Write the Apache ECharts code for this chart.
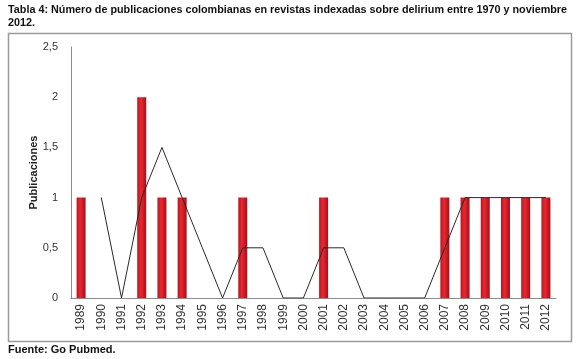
<!DOCTYPE html>
<html>
<head>
<meta charset="utf-8">
<script src="https://cdn.jsdelivr.net/npm/echarts@6/dist/echarts.min.js"></script>
<style>
  html, body { margin: 0; padding: 0; background: #fff; }
  #chart { width: 580px; height: 359px; }
</style>
</head>
<body>
<div id="chart"></div>
<script>
var years = ['1989', '1990', '1991', '1992', '1993', '1994', '1995', '1996', '1997', '1998', '1999', '2000',
    '2001', '2002', '2003', '2004', '2005', '2006', '2007', '2008', '2009', '2010', '2011', '2012'];
var publicaciones = [1, 0, 0, 2, 1, 1, 0, 0, 1, 0, 0, 0, 1, 0, 0, 0, 0, 0, 1, 1, 1, 1, 1, 1];
// linea de tendencia
var tendencia = [null, 1, 0, 1, 1.5, 1, 0.5, 0, 0.5, 0.5, 0, 0, 0.5, 0.5, 0, 0, 0, 0, 0.5, 1, 1, 1, 1, 1];

var titulo = 'Tabla 4: Número de publicaciones colombianas en revistas indexadas sobre delirium entre 1970 y noviembre\n2012.';
var fuente = 'Fuente: Go Pubmed.';

var myChart = echarts.init(document.getElementById('chart'));
myChart.setOption({
    animation: false,
    textStyle: { fontFamily: 'Liberation Sans' },
    grid: { left: 71, right: 24, top: 47, bottom: 61 },
    graphic: [
        {
            type: 'rect',
            shape: { x: 8.5, y: 33.5, width: 563, height: 308 },
            style: { fill: 'none', stroke: '#9a9a9a', lineWidth: 1.5 },
            z: -1
        },
        {
            type: 'text',
            left: 8, top: 4,
            style: {
                text: titulo,
                font: 'bold 10.8px "Liberation Sans"',
                fill: '#111',
                lineHeight: 13
            }
        },
        {
            type: 'text',
            left: 8, top: 344,
            style: {
                text: fuente,
                font: 'bold 11px "Liberation Sans"',
                fill: '#111'
            }
        }
    ],
    xAxis: {
        type: 'category',
        data: years,
        axisTick: { show: false },
        axisLine: { lineStyle: { color: '#8c8c8c' } },
        axisLabel: { rotate: 90, fontSize: 12, color: '#333', interval: 0, margin: 6 }
    },
    yAxis: {
        type: 'value',
        min: 0,
        max: 2.5,
        interval: 0.5,
        name: 'Publicaciones',
        nameLocation: 'middle',
        nameGap: 32,
        nameMoveOverlap: false,
        nameTextStyle: { fontWeight: 'bold', fontSize: 11, color: '#222' },
        splitLine: { show: false },
        axisTick: { show: false },
        axisLine: { show: true, lineStyle: { color: '#8c8c8c' } },
        axisLabel: {
            fontSize: 11, color: '#333', margin: 13,
            formatter: function (v) { return String(v).replace('.', ','); }
        }
    },
    series: [
        {
            type: 'bar',
            data: publicaciones,
            barWidth: 9,
            itemStyle: {
                color: new echarts.graphic.LinearGradient(0, 0, 1, 0, [
                    { offset: 0, color: '#b8161e' },
                    { offset: 0.4, color: '#ec2630' },
                    { offset: 1, color: '#a0121a' }
                ])
            }
        },
        {
            type: 'line',
            data: tendencia,
            symbol: 'none',
            connectNulls: false,
            lineStyle: { color: '#2a2a2a', width: 1 }
        }
    ]
});
</script>
</body>
</html>
